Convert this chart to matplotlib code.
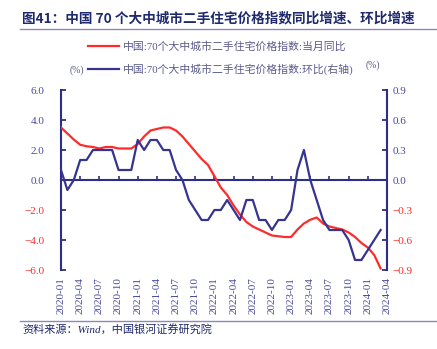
import matplotlib
matplotlib.use("Agg")
import matplotlib.pyplot as plt
import numpy as np
import pandas as pd

# ---- data ----
months = [str(p) for p in pd.period_range("2020-01", "2024-04", freq="M")]
yoy = [3.5, 3.1, 2.7, 2.35, 2.25, 2.2, 2.1, 2.2, 2.2, 2.1, 2.1, 2.1,
       2.4, 2.9, 3.3, 3.4, 3.5, 3.5, 3.3, 2.9, 2.4, 1.9, 1.4, 1.0,
       0.25, -0.5, -1.0, -1.7, -2.3, -2.8, -3.1, -3.3, -3.5, -3.7, -3.75, -3.8,
       -3.8, -3.3, -2.9, -2.65, -2.5, -2.9, -3.1, -3.2, -3.3, -3.5, -3.8, -4.2,
       -4.5, -5.0, -5.9]
mom = [0.1, -0.1, 0.0, 0.2, 0.2, 0.3, 0.3, 0.3, 0.3, 0.1, 0.1, 0.1,
       0.4, 0.3, 0.4, 0.4, 0.3, 0.3, 0.1, 0.0, -0.2, -0.3, -0.4, -0.4,
       -0.3, -0.3, -0.2, -0.3, -0.4, -0.2, -0.2, -0.4, -0.4, -0.5, -0.4, -0.4,
       -0.3, 0.1, 0.3, 0.0, -0.2, -0.4, -0.5, -0.5, -0.5, -0.6, -0.8, -0.8,
       -0.7, -0.6, -0.5]
yoy_label = "中国:70个大中城市二手住宅价格指数:当月同比"
mom_label = "中国:70个大中城市二手住宅价格指数:环比(右轴)"
left_ticks = [6.0, 4.0, 2.0, 0.0, -2.0, -4.0, -6.0]
right_ticks = [0.9, 0.6, 0.3, 0.0, -0.3, -0.6, -0.9]
title = "图41：中国 70 个大中城市二手住宅价格指数同比增速、环比增速"
source = "资料来源：Wind，中国银河证券研究院"

# ---- style ----
SERIF = ["Liberation Serif", "Noto Sans CJK SC"]
NAVY = "#2f2e86"
TXT = "#4a4a9a"
RED = "#ff2b2b"
RED_TXT = "#ff2b2b"
W, H = 437, 349

fig = plt.figure(figsize=(W / 100, H / 100), dpi=100)
fig.patch.set_facecolor("white")

L, R, T, B = 61, 387, 90, 270
ax = fig.add_axes([L / W, 1 - B / H, (R - L) / W, (B - T) / H])
x = np.arange(len(yoy))
ax.plot(x, yoy, color=RED, lw=1.6, label=yoy_label, zorder=3)
ax.set_xlim(0, len(months) - 1)
ax.set_ylim(-6, 6)
ax2 = ax.twinx()
ax2.plot(x, mom, color="#37348f", lw=1.6, label=mom_label, zorder=3)
ax2.set_ylim(-0.9, 0.9)

for a in (ax, ax2):
    for s in a.spines.values():
        s.set_visible(False)
ax.spines["left"].set_visible(True)
ax.spines["left"].set_color(NAVY)
ax.spines["left"].set_linewidth(1.5)
ax2.spines["right"].set_visible(True)
ax2.spines["right"].set_color(NAVY)
ax2.spines["right"].set_linewidth(1.5)

ax.set_yticks(left_ticks)
ax.set_yticklabels([f"{v:.1f}".replace("-", "\u2212") for v in left_ticks],
                   family=SERIF, fontsize=8)
for lab, v in zip(ax.get_yticklabels(), left_ticks):
    lab.set_color(RED_TXT if v < 0 else TXT)
ax.tick_params(axis="y", direction="in", length=3.5, width=1.3, color=NAVY, pad=12)

ax2.set_yticks(right_ticks)
ax2.set_yticklabels([f"{v:.1f}".replace("-", "\u2212") for v in right_ticks],
                    family=SERIF, fontsize=8)
for lab, v in zip(ax2.get_yticklabels(), right_ticks):
    lab.set_color(RED_TXT if v < 0 else TXT)
ax2.tick_params(axis="y", direction="in", length=3.5, width=1.3, color=NAVY, pad=4)

xt = list(range(0, len(months), 3))
ax.set_xticks(xt)
ax.set_xticklabels([months[i] for i in xt], rotation=90, family=SERIF,
                   fontsize=8, color=TXT)
ax.tick_params(axis="x", length=0, pad=5)

zero = ax.secondary_xaxis(0.5)
zero.set_xticks(xt)
zero.tick_params(axis="x", direction="out", length=3, width=1.2, color=NAVY,
                 labeltop=False, labelbottom=False)
for s in zero.spines.values():
    s.set_color(NAVY)
    s.set_linewidth(1.5)

# legend
h1, l1 = ax.get_legend_handles_labels()
h2, l2 = ax2.get_legend_handles_labels()
fig.legend(h1 + h2, l1 + l2, loc="upper left",
           bbox_to_anchor=(88 / W, 1 - 41 / H), frameon=False,
           prop={"family": SERIF, "size": 7.8}, labelcolor="#5a5a8c",
           handlelength=2.9, handletextpad=0.35, labelspacing=1.05,
           borderpad=0, borderaxespad=0)

fig.text(77 / W, 1 - 70 / H, "(%)", family=SERIF, fontsize=7, color="#5a5a8c",
         ha="center", va="center")
fig.text(373 / W, 1 - 65 / H, "(%)", family=SERIF, fontsize=7, color="#5a5a8c",
         ha="center", va="center")

fig.text(22 / W, 1 - 18 / H, title, family=["Noto Sans CJK SC"], fontsize=9.8,
         fontweight="bold", color="#1f2a6e", ha="left", va="center")
fig.add_artist(plt.Line2D([20 / W, 1], [1 - 29 / H, 1 - 29 / H], color="#8a88c0",
                          lw=1.0, transform=fig.transFigure))
fig.add_artist(plt.Line2D([20 / W, 1], [1 - 321 / H, 1 - 321 / H], color="#8a88c0",
                          lw=1.0, transform=fig.transFigure))
fig.text(22 / W, 1 - 329 / H, source, family=SERIF, fontsize=8, style="italic",
         color="#1f2a6e", ha="left", va="center")

fig.savefig("out.png", dpi=100, facecolor="white")
